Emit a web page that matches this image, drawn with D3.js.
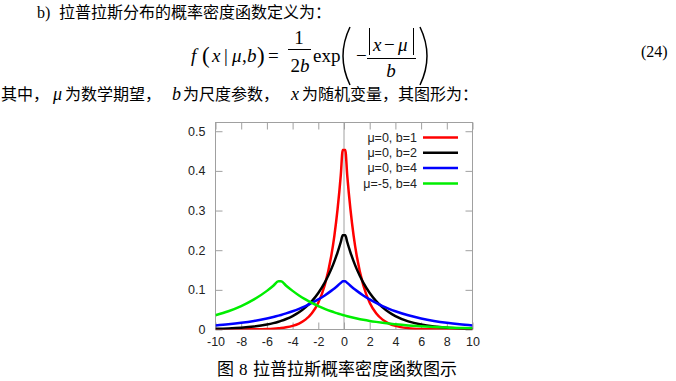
<!DOCTYPE html>
<html>
<head>
<meta charset="utf-8">
<script src="https://cdn.jsdelivr.net/npm/d3@7"></script>
<style>
  body { margin: 0; background: #fff; }
  svg { display: block; }
</style>
</head>
<body>
<svg id="fig"></svg>
<script>
// sample positions shared by all four curves
const xs = [-10, -9, -8, -7, -6, -5.5, -5.1, -4.9, -4.5, -4, -3.5, -3, -2.5, -2, -1.5, -1, -0.75, -0.5, -0.25, -0.1,
  0.1, 0.25, 0.5, 0.75, 1, 1.5, 2, 2.5, 3, 3.5, 4, 5, 6, 7, 8, 9, 10];

const red = [0.00002, 0.00006, 0.0002, 0.0005, 0.0012, 0.002, 0.003, 0.0037, 0.0056, 0.0092, 0.0151, 0.0249, 0.041, 0.0677, 0.1116, 0.1839, 0.2362, 0.3033, 0.3894, 0.4524,
  0.4524, 0.3894, 0.3033, 0.2362, 0.1839, 0.1116, 0.0677, 0.041, 0.0249, 0.0151, 0.0092, 0.0034, 0.0012, 0.0005, 0.0002, 0.00006, 0.00002];
const black = [0.0017, 0.0028, 0.0046, 0.0076, 0.0125, 0.016, 0.0195, 0.0216, 0.0264, 0.0338, 0.0434, 0.0558, 0.0716, 0.092, 0.1181, 0.1516, 0.1718, 0.1947, 0.2206, 0.2378,
  0.2378, 0.2206, 0.1947, 0.1718, 0.1516, 0.1181, 0.092, 0.0716, 0.0558, 0.0434, 0.0338, 0.0205, 0.0125, 0.0076, 0.0046, 0.0028, 0.0017];
const blue = [0.0103, 0.0132, 0.0169, 0.0217, 0.0279, 0.0316, 0.0349, 0.0367, 0.0406, 0.046, 0.0521, 0.059, 0.0669, 0.0758, 0.0859, 0.0974, 0.1036, 0.1103, 0.1174, 0.1219,
  0.1219, 0.1174, 0.1103, 0.1036, 0.0974, 0.0859, 0.0758, 0.0669, 0.059, 0.0521, 0.046, 0.0358, 0.0279, 0.0217, 0.0169, 0.0132, 0.0103];
const green = [0.0358, 0.046, 0.059, 0.0758, 0.0974, 0.1103, 0.1219, 0.1219, 0.1103, 0.0974, 0.0859, 0.0758, 0.0669, 0.059, 0.0521, 0.046, 0.0432, 0.0406, 0.0381, 0.0367,
  0.0349, 0.0336, 0.0316, 0.0297, 0.0279, 0.0246, 0.0217, 0.0192, 0.0169, 0.0149, 0.0132, 0.0103, 0.008, 0.0062, 0.0049, 0.0038, 0.0029];

const seriesNames = ['μ=0, b=1', 'μ=0, b=2', 'μ=0, b=4', 'μ=-5, b=4'];
const xTicks = [-10, -8, -6, -4, -2, 0, 2, 4, 6, 8, 10];
const yTicks = [0, 0.1, 0.2, 0.3, 0.4, 0.5];

const width = 676, height = 381;
const colors = ['#ff0000', '#000000', '#0000ff', '#00ee00'];
const gray = '#a0a0a0';
const cjk = '"Noto Sans CJK SC", sans-serif';
const serif = '"Liberation Serif", "Times New Roman", serif';
const sans = '"Liberation Sans", Arial, sans-serif';

const svg = d3.select('#fig').attr('width', width).attr('height', height);
svg.append('rect').attr('width', width).attr('height', height).attr('fill', '#fff');

// ---- text above the chart ----
const line1 = svg.append('text').attr('y', 18).attr('font-size', 16);
line1.append('tspan').attr('x', 37).attr('font-family', serif).text('b)');
line1.append('tspan').attr('x', 59).attr('font-family', cjk).text('拉普拉斯分布的概率密度函数定义为：');

// formula
const fm = svg.append('g').attr('font-family', serif).attr('font-size', 19);
const t = (x, y, s, italic, anchor, size) => fm.append('text')
  .attr('x', x).attr('y', y).attr('text-anchor', anchor || 'start')
  .attr('font-size', size || null)
  .attr('font-style', italic ? 'italic' : 'normal').text(s);
t(191, 62, 'f', true);
t(202, 63, '(', false, 'start', 23);
t(212, 62, 'x', true);
t(224, 62, '|');
t(232, 62, 'μ', true);
t(242, 62, ',');
t(247, 62, 'b', true);
t(257, 63, ')', false, 'start', 23);
t(268, 62, '=');
t(299, 44, '1', false, 'middle');
const den = fm.append('text').attr('x', 300).attr('y', 72).attr('text-anchor', 'middle');
den.append('tspan').text('2');
den.append('tspan').attr('font-style', 'italic').text('b');
t(313, 62, 'exp');
t(356, 62, '−');
t(373, 51, 'x', true);
t(384, 51, '−');
t(398, 51, 'μ', true);
t(391, 77, 'b', true, 'middle');
const strokes = fm.append('g').attr('stroke', '#000').attr('fill', 'none');
strokes.append('line').attr('x1', 288).attr('x2', 311).attr('y1', 49.5).attr('y2', 49.5);
strokes.append('line').attr('x1', 367).attr('x2', 416).attr('y1', 58.5).attr('y2', 58.5);
strokes.append('line').attr('x1', 369.5).attr('x2', 369.5).attr('y1', 28).attr('y2', 55);
strokes.append('line').attr('x1', 413.5).attr('x2', 413.5).attr('y1', 28).attr('y2', 55);
strokes.append('path').attr('d', 'M350,27 Q336,56 350,85').attr('stroke-width', 1.5);
strokes.append('path').attr('d', 'M420,27 Q434,56 420,85').attr('stroke-width', 1.5);
fm.append('text').attr('x', 641).attr('y', 57).attr('font-size', 16).text('(24)');

// line 3
const line3 = svg.append('text').attr('y', 100).attr('font-size', 16).attr('font-family', cjk);
line3.append('tspan').attr('x', 1).text('其中，');
line3.append('tspan').attr('x', 53).attr('font-family', serif).attr('font-style', 'italic').attr('font-size', 18).text('μ');
line3.append('tspan').attr('x', 65).text('为数学期望，');
line3.append('tspan').attr('x', 172).attr('font-family', serif).attr('font-style', 'italic').attr('font-size', 18).text('b');
line3.append('tspan').attr('x', 183).text('为尺度参数，');
line3.append('tspan').attr('x', 291).attr('font-family', serif).attr('font-style', 'italic').attr('font-size', 18).text('x');
line3.append('tspan').attr('x', 302).text('为随机变量，其图形为：');

// ---- chart ----
const x = d3.scaleLinear().domain([-10, 10]).range([215.5, 472.5]);
const y = d3.scaleLinear().domain([0, 0.522]).range([329.5, 122.5]);

const chart = svg.append('g');

function styleAxis(g) {
  g.select('.domain').remove();
  g.selectAll('.tick line').attr('stroke', gray);
  g.selectAll('.tick text').attr('fill', '#222').attr('font-family', sans).attr('font-size', 12.5);
}

chart.append('g')
  .attr('transform', `translate(0,${y(0)})`)
  .call(d3.axisBottom(x).tickValues(xTicks).tickSize(-7).tickPadding(8).tickFormat(d => String(d)))
  .call(styleAxis);
chart.append('g')
  .attr('transform', `translate(${x(-10)},0)`)
  .call(d3.axisLeft(y).tickValues(yTicks).tickSize(-7).tickPadding(10)
    .tickFormat(d => d === 0 ? '0' : d3.format('.1f')(d)))
  .call(styleAxis);
chart.append('g')
  .attr('transform', `translate(0,${y.range()[1]})`)
  .call(d3.axisTop(x).tickValues(xTicks).tickSize(-7).tickFormat(''))
  .call(styleAxis);
chart.append('g')
  .attr('transform', `translate(${x(10)},0)`)
  .call(d3.axisRight(y).tickValues(yTicks).tickSize(-7).tickFormat(''))
  .call(styleAxis);

// zero axis
chart.append('line')
  .attr('x1', x(0)).attr('x2', x(0))
  .attr('y1', y(0)).attr('y2', y.range()[1])
  .attr('stroke', gray);

// frame
chart.append('rect')
  .attr('x', x(-10)).attr('y', y.range()[1])
  .attr('width', x(10) - x(-10)).attr('height', y(0) - y.range()[1])
  .attr('fill', 'none').attr('stroke', gray);

// legend
const legendRight = 417;
const legend = chart.append('g').attr('font-family', sans).attr('font-size', 12.5);
seriesNames.forEach((name, i) => {
  const ly = 137.5 + i * 15.3;
  legend.append('text')
    .attr('x', legendRight).attr('y', ly).attr('dy', '0.35em')
    .attr('text-anchor', 'end').attr('fill', '#222')
    .text(name);
  legend.append('line')
    .attr('x1', 423).attr('x2', 458).attr('y1', ly).attr('y2', ly)
    .attr('stroke', colors[i]).attr('stroke-width', 2.5);
});

// curves
svg.append('clipPath').attr('id', 'plotClip')
  .append('rect')
  .attr('x', x(-10)).attr('y', y.range()[1] - 2)
  .attr('width', x(10) - x(-10)).attr('height', y(0) - y.range()[1] + 2);

const line = d3.line()
  .x((d, i) => x(xs[i]))
  .y(d => y(d))
  .curve(d3.curveMonotoneX);

chart.append('g')
  .attr('clip-path', 'url(#plotClip)')
  .selectAll('path')
  .data([red, black, blue, green])
  .join('path')
  .attr('d', line)
  .attr('fill', 'none')
  .attr('stroke', (d, i) => colors[i])
  .attr('stroke-width', 2.5)
  .attr('stroke-linejoin', 'miter');

// caption
const cap = svg.append('text').attr('y', 375).attr('font-size', 17).attr('font-family', cjk);
cap.append('tspan').attr('x', 217).text('图');
cap.append('tspan').attr('x', 239).attr('font-family', serif).text('8');
cap.append('tspan').attr('x', 253).text('拉普拉斯概率密度函数图示');
</script>
</body>
</html>
